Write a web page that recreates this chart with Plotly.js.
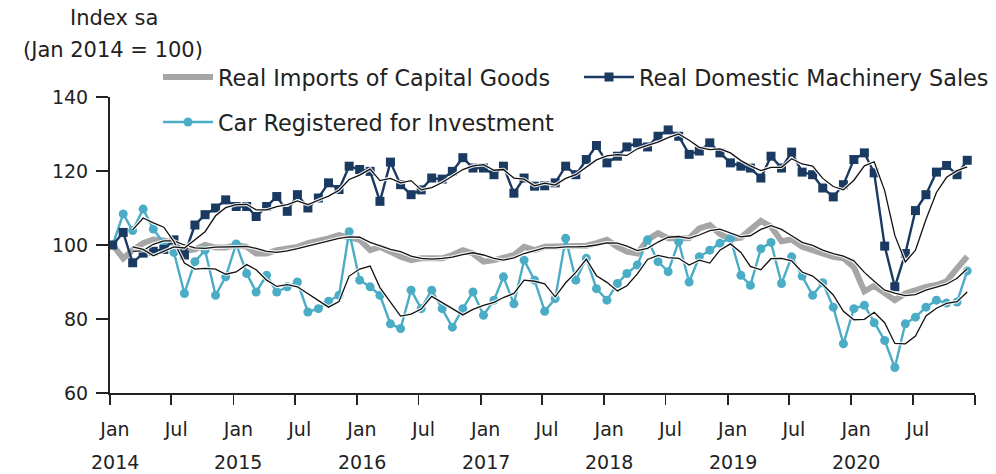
<!DOCTYPE html>
<html>
<head>
<meta charset="utf-8">
<script src="https://cdn.plot.ly/plotly-3.0.1.min.js"></script>
<style>
  html, body { margin: 0; padding: 0; background: #ffffff; }
  #chart { width: 996px; height: 474px; }
</style>
</head>
<body>
<div id="chart"></div>
<script>
// ---- Data (monthly, Jan 2014 – Dec 2020), index Jan 2014 = 100 ----
const years = [2014, 2015, 2016, 2017, 2018, 2019, 2020];

const importsCapitalGoods = [
  100, 96.4, 98.6, 100.5, 101.5, 101.2, 100.5, 98.4, 98.8, 100, 99.3, 99.3,
  100, 99.5, 97.7, 97.7, 98.6, 99, 99.5, 100.5, 101, 101.8, 102.7, 102.2,
  101.4, 98.6, 99.5, 98.2, 96.8, 95.9, 96.4, 96.4, 96.4, 97.3, 98.6, 97.7,
  95.5, 95.9, 96.4, 97.3, 99.5, 98.6, 99.5, 99.5, 99.5, 99.6, 99.8, 100.5,
  101.4, 99.5, 98.2, 97.7, 101.4, 103.2, 101.8, 101.8, 101.8, 104.5, 105.4, 103,
  101.6, 102, 104, 106.5, 105, 101, 101.5, 99.5, 98.6, 97.7, 96.8, 96.4,
  94, 87.5, 89, 87, 85.1, 86.9, 87.8, 88.7, 89.2, 90.2, 93.7, 96.9
];

const machinerySales = [
  100, 103.4, 95.2, 97.8, 98.3, 98.8, 101.4, 97.3, 105.4, 108.2, 110, 112.2,
  110.4, 110.4, 107.7, 110.4, 113.1, 109.1, 113.6, 110, 112.7, 116.8, 115, 121.3,
  120.4, 119.9, 111.8, 122.4, 116.3, 113.6, 114.9, 118.1, 117.8, 119.9, 123.6, 120.8,
  120.8, 119, 121.3, 114, 118.1, 115.9, 116, 116.8, 121.3, 119, 123.1, 126.9,
  122.2, 124, 126.5, 127.6, 126.5, 129.4, 131.1, 129.4, 124.5, 125.4, 127.6, 124.9,
  122.2, 121.3, 120.8, 118.1, 124, 120.8, 125.1, 119.7, 119, 115.4, 113, 116.3,
  123.1, 124.9, 119.5, 99.7, 88.7, 97.7, 109.3, 113.6, 119.7, 121.5, 119, 122.9
];

const carsRegistered = [
  100, 108.4, 103.9, 109.7, 104.3, 100.5, 98, 86.9, 95.5, 98.6, 86.4, 91.4,
  100.3, 92.3, 87.3, 91.8, 87.3, 88.7, 90, 81.9, 82.8, 84.8, 86.4, 103.6,
  90.5, 88.7, 86.4, 78.7, 77.4, 87.8, 82.8, 87.8, 82.8, 77.8, 82.8, 87.3,
  81, 85.1, 91.4, 84.1, 95.9, 90.5, 82.1, 85.5, 101.8, 90.5, 96.4, 88.2,
  85.1, 89.6, 92.3, 94.6, 101.4, 95.5, 92.8, 100.9, 90, 96.8, 98.6, 100.5,
  101.8, 91.8, 89.1, 99, 100.7, 89.6, 96.8, 91.6, 86.4, 89.8, 83.2, 73.3,
  82.8, 83.7, 79, 74.2, 66.9, 78.7, 80.5, 83.2, 85.1, 84.3, 84.6, 93
];

// Thin black trend lines (they start in Mar 2014)
const importsTrend = [
  null, null, 98.3, 98.5, 100.2, 101.1, 101.1, 100.0, 99.2, 99.1, 99.4, 99.5,
  99.5, 99.6, 99.1, 98.3, 98.0, 98.4, 99.0, 99.7, 100.3, 101.1, 101.8, 102.2,
  102.1, 100.7, 99.8, 98.8, 98.2, 97.0, 96.4, 96.2, 96.4, 96.7, 97.4, 97.9,
  97.3, 96.4, 95.9, 96.5, 97.7, 98.5, 99.2, 99.2, 99.5, 99.5, 99.6, 100.0,
  100.6, 100.5, 99.7, 98.5, 99.1, 100.8, 102.1, 102.3, 101.8, 102.7, 103.9, 104.3,
  103.3, 102.2, 102.5, 104.2, 105.2, 104.2, 102.5, 100.7, 99.9, 98.6, 97.7, 97.0,
  95.7, 92.6, 90.2, 87.8, 87.0, 86.3, 86.6, 87.8, 88.6, 89.4, 91.0, 93.6
];

const machineryTrend = [
  null, null, 99.5, 98.8, 97.1, 98.3, 99.5, 99.2, 101.4, 103.6, 107.9, 110.1,
  110.9, 111.0, 109.5, 109.5, 110.4, 110.9, 111.9, 110.9, 112.1, 113.2, 114.8, 117.7,
  118.9, 120.5, 117.4, 118.0, 116.8, 117.4, 114.9, 115.5, 116.9, 118.6, 120.4, 121.4,
  121.7, 120.2, 120.4, 118.1, 117.8, 116.0, 116.7, 116.2, 118.0, 119.0, 121.1, 123.0,
  124.1, 124.4, 124.2, 126.0, 126.9, 127.8, 129.0, 130.0, 128.3, 126.4, 125.8, 126.0,
  124.9, 122.8, 121.4, 120.1, 121.0, 121.0, 123.3, 121.9, 121.3, 118.0, 115.8, 114.9,
  117.5, 121.4, 122.5, 114.7, 102.6, 95.4, 98.6, 106.9, 114.2, 118.3, 120.1, 121.1
];

const carsTrend = [
  null, null, 104.1, 107.3, 106.0, 104.8, 100.9, 95.1, 93.5, 93.7, 93.5, 92.1,
  92.7, 94.7, 93.3, 90.5, 88.8, 89.3, 88.7, 86.9, 84.9, 83.2, 84.7, 91.6,
  93.5, 94.3, 88.5, 84.6, 80.8, 81.3, 82.7, 86.1, 84.5, 82.8, 81.1, 82.6,
  83.7, 84.5, 85.8, 86.9, 90.5, 90.2, 89.5, 86.0, 89.8, 92.6, 96.2, 91.7,
  89.9, 87.6, 89.0, 92.2, 96.1, 97.2, 96.6, 96.4, 94.6, 95.9, 95.1, 98.6,
  100.3, 98.0, 94.2, 93.3, 96.3, 96.4, 95.7, 92.7, 91.6, 89.3, 86.5, 82.1,
  79.8, 79.9, 81.8, 79.0, 73.4, 73.3, 75.4, 80.8, 82.9, 84.2, 84.7, 87.3
];

const seriesNames = [
  'Real Imports of Capital Goods',
  'Real Domestic Machinery Sales',
  'Car Registered for Investment'
];
const monthTickNames = ['Jan', 'Jul'];

// ---- Build the monthly date axis (observations plotted early in each month) ----
const dates = [];
years.forEach(y => {
  for (let m = 1; m <= 12; m++) {
    dates.push(y + '-' + String(m).padStart(2, '0') + '-09');
  }
});

const tickVals = [], tickText = [];
years.concat([2021]).forEach(y => {
  tickVals.push(y + '-01-01');
  tickText.push(y === 2021 ? '' : monthTickNames[0]);
  if (y !== 2021) {
    tickVals.push(y + '-07-01');
    tickText.push(monthTickNames[1]);
  }
});

const FONT = 'DejaVu Sans, Verdana, sans-serif';
const TXT = '#222222';
const GRAY = '#a6a6a6';
const NAVY = '#1a3a62';
const TEAL = '#4bacc6';

function halo(y) {
  return { x: dates, y: y, type: 'scatter', mode: 'lines', showlegend: false,
           hoverinfo: 'skip', line: { color: 'rgba(255,255,255,0.85)', width: 3.6 } };
}
function trend(y) {
  return { x: dates, y: y, type: 'scatter', mode: 'lines', showlegend: false,
           hoverinfo: 'skip', line: { color: '#111111', width: 1.3 } };
}

const traces = [
  { x: dates, y: importsCapitalGoods, name: seriesNames[0], type: 'scatter', mode: 'lines',
    line: { color: GRAY, width: 6 }, legend: 'legend' },
  { x: dates, y: carsRegistered, name: seriesNames[2], type: 'scatter', mode: 'lines+markers',
    line: { color: TEAL, width: 2.4 }, marker: { symbol: 'circle', size: 9, color: TEAL },
    legend: 'legend2' },
  { x: dates, y: machinerySales, name: seriesNames[1], type: 'scatter', mode: 'lines+markers',
    line: { color: NAVY, width: 2.4 }, marker: { symbol: 'square', size: 9, color: NAVY },
    legend: 'legend3' },
  halo(importsTrend), trend(importsTrend),
  halo(carsTrend), trend(carsTrend),
  halo(machineryTrend), trend(machineryTrend)
];

const annotations = [
  { text: 'Index sa', xref: 'paper', yref: 'paper', x: 0.005, y: 1.267,
    xanchor: 'center', yanchor: 'middle', showarrow: false, font: { family: FONT, size: 21, color: TXT } },
  { text: '(Jan 2014 = 100)', xref: 'paper', yref: 'paper', x: 0.004, y: 1.159,
    xanchor: 'center', yanchor: 'middle', showarrow: false, font: { family: FONT, size: 21, color: TXT } }
];
years.forEach(y => {
  annotations.push({ text: String(y), xref: 'x', yref: 'paper', x: y + '-01-01', y: 0,
    xanchor: 'center', yanchor: 'top', yshift: -56, xshift: 5, showarrow: false,
    font: { family: FONT, size: 19, color: TXT } });
});

const legendFont = { family: FONT, size: 22.3, color: TXT };
const layout = {
  width: 996, height: 474,
  margin: { l: 110, r: 21, t: 97, b: 81, autoexpand: false },
  paper_bgcolor: '#ffffff', plot_bgcolor: '#ffffff',
  font: { family: FONT, size: 19, color: TXT },
  showlegend: true,
  legend: {
    orientation: 'h', x: 0.0555, y: 1.0676, xanchor: 'left', yanchor: 'middle',
    bgcolor: 'rgba(0,0,0,0)', itemwidth: 50, font: legendFont
  },
  legend2: {
    orientation: 'h', x: 0.0555, y: 0.9155, xanchor: 'left', yanchor: 'middle',
    bgcolor: 'rgba(0,0,0,0)', itemwidth: 50, font: legendFont
  },
  legend3: {
    orientation: 'h', x: 0.5422, y: 1.0676, xanchor: 'left', yanchor: 'middle',
    bgcolor: 'rgba(0,0,0,0)', itemwidth: 50, font: legendFont
  },
  xaxis: {
    type: 'date', range: ['2014-01-01', '2021-01-01'],
    tickmode: 'array', tickvals: tickVals, ticktext: tickText,
    ticks: 'outside', ticklen: 10, tickwidth: 1.6, tickcolor: '#222',
    showline: true, linecolor: '#222', linewidth: 2,
    showgrid: false, zeroline: false, ticklabelstandoff: 8, ticklabelshift: 5,
    tickfont: { family: FONT, size: 19, color: TXT }
  },
  yaxis: {
    range: [60, 140], tickmode: 'linear', tick0: 60, dtick: 20,
    ticks: 'outside', ticklen: 12, tickwidth: 1.6, tickcolor: '#222',
    showline: true, linecolor: '#222', linewidth: 2,
    showgrid: false, zeroline: false, ticklabelstandoff: 4,
    tickfont: { family: FONT, size: 19, color: TXT }
  },
  annotations: annotations
};

Plotly.newPlot('chart', traces, layout, { displayModeBar: false, staticPlot: true });
</script>
</body>
</html>
